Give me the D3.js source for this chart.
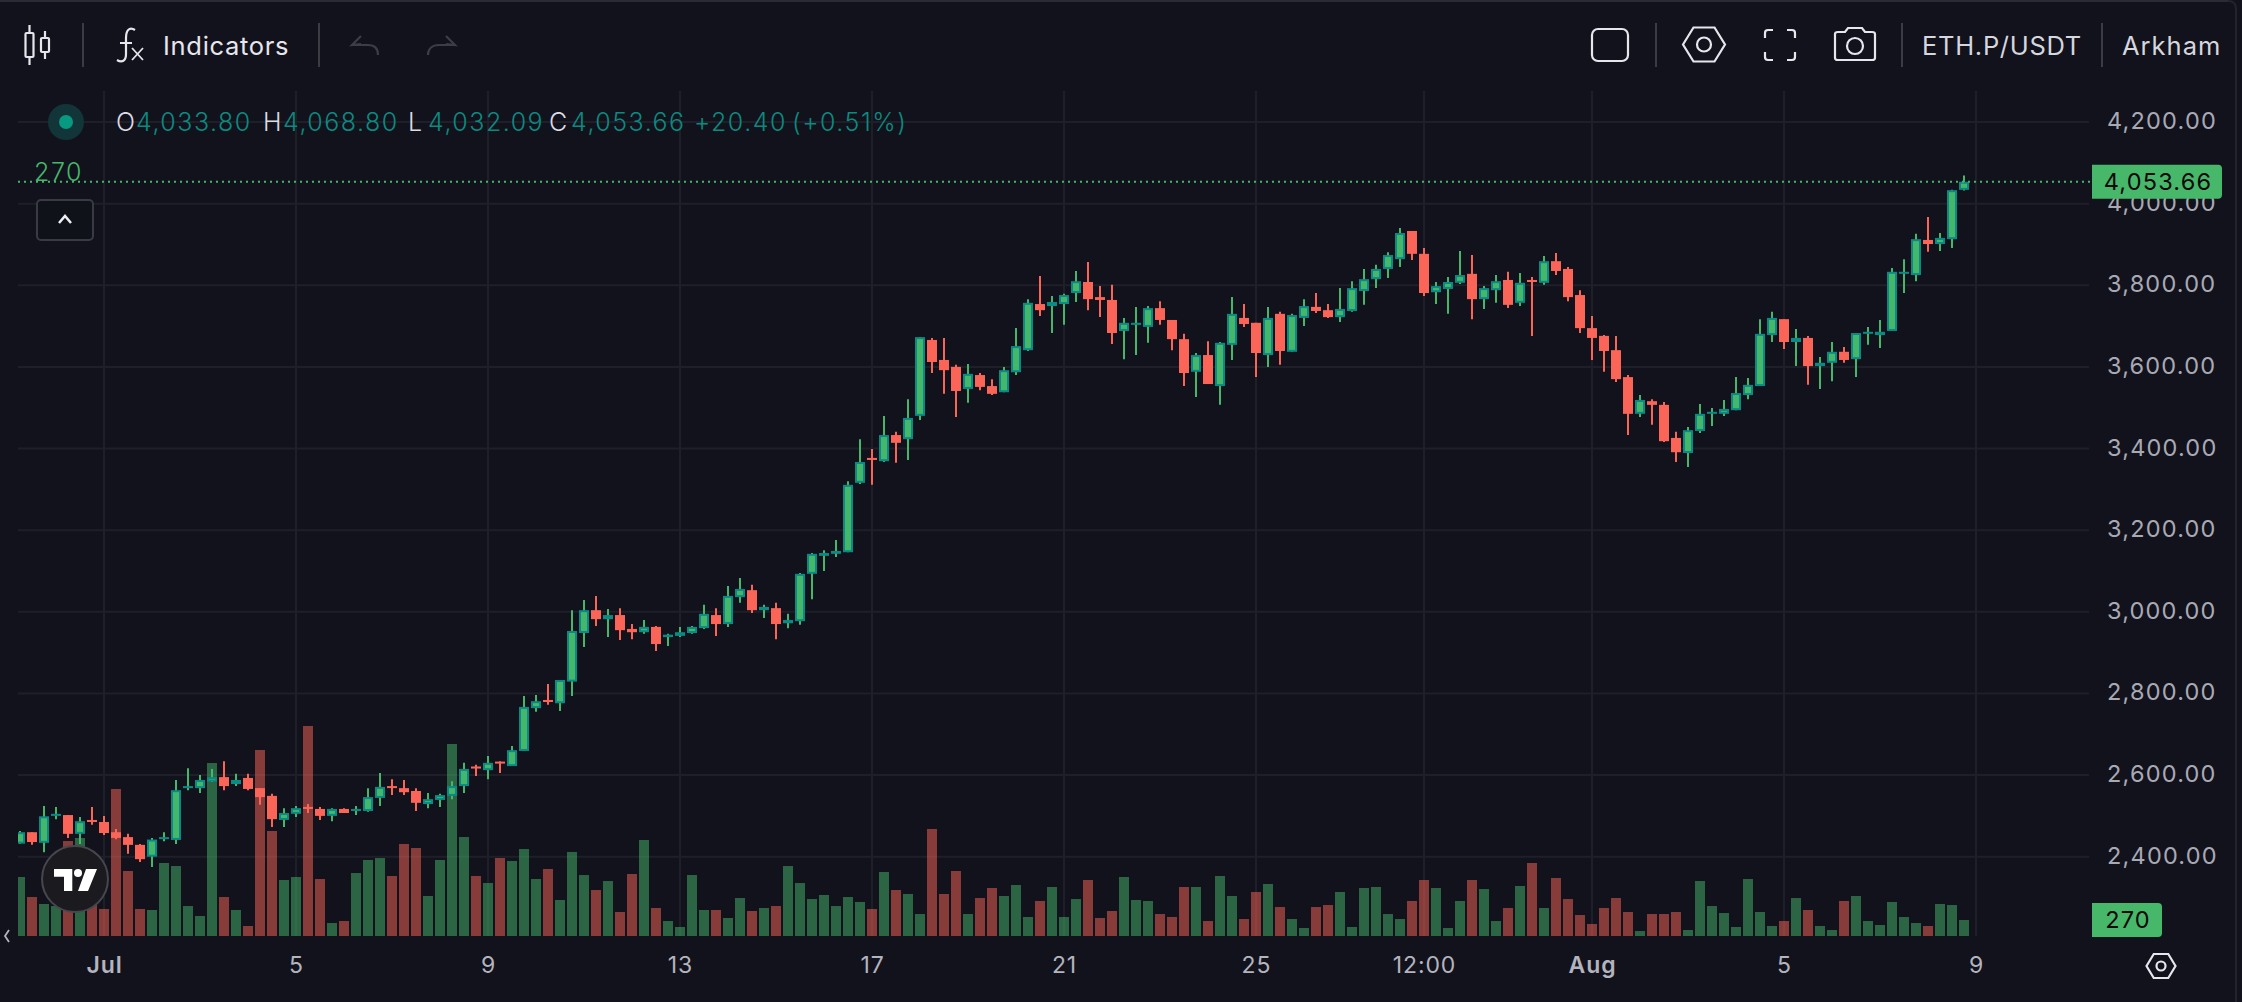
<!DOCTYPE html>
<html>
<head>
<meta charset="utf-8">
<script src="https://cdn.jsdelivr.net/npm/d3@7"></script>
<style>
  html, body { margin: 0; padding: 0; background: #12121c; }
  svg { display: block; font-family: Inter, "Noto Sans", sans-serif; }
</style>
</head>
<body>
<svg id="chart" width="2242" height="1002"></svg>
<script>
// 6h candles, one entry per bar, first bar is 7 bars before 1 Jul
const barOffset = -7;

const opens = [
  2432,2460,2434,2500,2502,2456,2490,
  2485,2460,2448,2429,2400,2443,2441,2568,2568,2584,
  2595,2578,2593,2568,2549,2490,2505,2522,2517,2500,
  2517,2512,2512,2544,2573,2568,2561,2529,2539,2549,
  2573,2621,2612,2633,2622,2659,2764,2784,2776,2829,
  2948,3004,2982,2992,2958,2950,2963,2938,2941,2948,
  2960,2992,2970,3036,3053,3004,3009,2972,2977,3093,
  3137,3142,3146,3316,3377,3369,3433,3423,3480,3666,
  3617,3600,3546,3580,3553,3538,3587,3641,3754,3749,
  3754,3781,3808,3771,3764,3688,3703,3698,3744,3715,
  3668,3588,3629,3553,3654,3720,3708,3629,3730,3637,
  3720,3747,3739,3722,3737,3786,3815,3840,3864,3933,
  3877,3783,3791,3806,3828,3766,3788,3813,3757,3813,
  3806,3859,3840,3776,3695,3676,3641,3575,3485,3516,
  3507,3426,3389,3443,3485,3485,3494,3531,3553,3678,
  3717,3661,3671,3602,3610,3637,3619,3681,3678,3688,
  3828,3825,3911,3901,3913,4033.80
];
const highs = [
  2463,2460,2524,2522,2502,2497,2522,
  2500,2468,2456,2431,2446,2460,2588,2617,2600,2615,
  2634,2603,2603,2568,2554,2519,2524,2529,2522,2519,
  2519,2524,2568,2605,2590,2588,2568,2556,2554,2585,
  2630,2625,2647,2634,2671,2794,2796,2823,2833,3004,
  3029,3039,3007,3009,2970,2980,2965,2946,2963,2965,
  3017,3009,3063,3083,3066,3017,3022,2995,3095,3144,
  3151,3176,3320,3423,3399,3480,3441,3521,3673,3671,
  3671,3605,3607,3585,3570,3600,3695,3766,3823,3774,
  3779,3835,3857,3798,3801,3720,3747,3749,3761,3715,
  3681,3634,3663,3661,3771,3754,3708,3747,3735,3730,
  3766,3781,3754,3793,3810,3840,3850,3881,3940,3933,
  3891,3808,3820,3884,3874,3798,3825,3833,3830,3820,
  3872,3879,3845,3788,3725,3678,3676,3580,3531,3521,
  3514,3441,3453,3509,3499,3519,3575,3573,3717,3735,
  3717,3693,3676,3624,3661,3649,3683,3698,3715,3842,
  3864,3926,3967,3928,4034,4068.80
];
const lows = [
  2432,2429,2411,2492,2446,2431,2478,
  2453,2443,2407,2387,2375,2438,2431,2563,2556,2583,
  2563,2573,2563,2527,2473,2473,2497,2507,2490,2487,
  2507,2502,2510,2524,2551,2551,2512,2519,2522,2541,
  2556,2598,2590,2605,2622,2659,2755,2772,2757,2794,
  2914,2965,2938,2931,2933,2946,2904,2916,2938,2946,
  2958,2941,2963,3022,2997,2985,2933,2960,2968,3031,
  3100,3134,3146,3313,3311,3367,3365,3372,3470,3585,
  3534,3477,3512,3543,3531,3538,3580,3639,3725,3683,
  3703,3759,3739,3722,3656,3619,3629,3659,3703,3641,
  3553,3526,3558,3507,3617,3698,3575,3600,3605,3637,
  3700,3732,3720,3710,3735,3752,3793,3818,3845,3862,
  3774,3754,3730,3803,3717,3742,3757,3744,3749,3676,
  3801,3825,3761,3683,3617,3588,3563,3433,3477,3458,
  3416,3367,3355,3438,3455,3480,3494,3521,3553,3661,
  3644,3602,3556,3546,3565,3610,3575,3654,3646,3688,
  3781,3810,3882,3884,3891,4032.09
];
const closes = [
  2460,2436,2499,2505,2456,2487,2485,
  2458,2446,2429,2394,2442,2448,2563,2573,2588,2595,
  2573,2588,2566,2546,2492,2507,2519,2517,2500,2517,
  2507,2517,2546,2571,2569,2558,2532,2541,2551,2573,
  2615,2616,2630,2629,2661,2767,2781,2779,2833,2953,
  3004,2982,2992,2955,2950,2963,2921,2944,2950,2963,
  2995,2970,3039,3056,3004,3012,2970,2980,3093,3142,
  3144,3149,3311,3367,3372,3433,3414,3475,3673,3612,
  3592,3541,3583,3551,3534,3592,3651,3757,3739,3759,
  3776,3810,3766,3764,3683,3708,3708,3744,3715,3668,
  3585,3629,3558,3659,3730,3705,3634,3720,3639,3727,
  3749,3737,3722,3742,3793,3815,3840,3874,3928,3877,
  3781,3798,3808,3825,3766,3793,3810,3752,3806,3808,
  3859,3835,3771,3695,3671,3639,3570,3485,3519,3507,
  3418,3391,3445,3485,3490,3497,3536,3556,3681,3720,
  3661,3671,3602,3610,3637,3617,3683,3686,3686,3833,
  3833,3913,3901,3916,4033,4053.66
];
const volumes = [
  996,658,540,506,1603,1654,608,
  456,2481,1097,456,439,1232,1181,506,338,2919,
  658,439,169,3139,1772,945,996,3544,962,219,
  253,1063,1283,1316,1013,1553,1485,675,1283,3240,
  1671,1013,894,1316,1266,1468,962,1131,608,1418,
  1029,776,928,405,1046,1620,473,253,152,1029,
  439,439,304,641,422,473,506,1181,894,624,
  692,506,658,574,456,1080,776,709,371,1806,
  709,1097,371,641,810,675,861,321,591,827,
  321,624,945,304,422,996,608,591,371,321,
  827,827,253,1013,675,287,743,878,489,287,
  135,489,523,743,152,810,827,371,287,591,
  945,810,135,591,945,793,253,473,844,1232,
  473,979,624,354,203,473,641,405,84,371,
  371,405,101,928,506,388,152,962,405,169,
  253,641,439,169,101,591,675,253,186,574,
  321,219,169,540,523,270
];

const priceTicks = [2400,2600,2800,3000,3200,3400,3600,3800,4000,4200];
const timeTickBars = [0,16,32,48,64,80,96,110,124,140,156];
const timeTickLabels = ["Jul","5","9","13","17","21","25","12:00","Aug","5","9"];
const boldTicks = ["Jul","Aug"];

const lastPrice = 4053.66;
const lastVolume = 270;
const legendItems = [
  ["O", "4,033.80"], ["H", "4,068.80"], ["L", "4,032.09"], ["C", "4,053.66"]
];
const legendChange = "+20.40";
const legendPercent = "(+0.51%)";

const BG = "#12121c", GRID = "#1f1f29", AXIS_TEXT = "#a9a9b4", ICON = "#e6e6ec", SEP = "#3b3b44";
const UP = "#45b76a", UP_EDGE = "#0a8a84", DOWN = "#fb6558", LEGEND_TEAL = "#0b8a80";

const svg = d3.select("#chart");

const x = d3.scaleLinear().domain([barOffset, 156]).range([20, 1976]);
const y = d3.scaleLinear().domain([2400, 4200]).range([856.7, 122]);
// volume overlay sits on the bottom of the pane
const yVol = d3.scaleLinear().domain([0, 270]).range([936, 920]);

const bars = opens.map((o, i) => ({
  idx: i + barOffset, o, h: highs[i], l: lows[i], c: closes[i], v: volumes[i], up: closes[i] >= o
}));

// clip for the pane so first bar gets cut on the left
svg.append("clipPath").attr("id", "pane")
  .append("rect").attr("x", 18).attr("y", 91).attr("width", 2071).attr("height", 846);

// window frame
svg.append("rect").attr("x", 0).attr("y", 0).attr("width", 2242).attr("height", 1002).attr("fill", BG);
svg.append("line").attr("x1", 0).attr("x2", 2230).attr("y1", 1).attr("y2", 1).attr("stroke", "#2b2b38").attr("stroke-width", 2);
svg.append("path").attr("d", "M2228,1 Q2236,1 2236,9 L2236,1002").attr("fill", "none").attr("stroke", "#23232d").attr("stroke-width", 2);

// grid
const grid = svg.append("g");
grid.selectAll("line.h").data(priceTicks).enter().append("line")
  .attr("class", "h")
  .attr("x1", 18).attr("x2", 2089)
  .attr("y1", d => y(d)).attr("y2", d => y(d))
  .attr("stroke", GRID).attr("stroke-width", 2);
grid.selectAll("line.v").data(timeTickBars).enter().append("line")
  .attr("class", "v")
  .attr("x1", d => x(d)).attr("x2", d => x(d))
  .attr("y1", 91).attr("y2", 936)
  .attr("stroke", GRID).attr("stroke-width", 2);

const pane = svg.append("g").attr("clip-path", "url(#pane)");

// volume bars
pane.selectAll("rect.vol").data(bars).enter().append("rect")
  .attr("class", "vol")
  .attr("x", d => x(d.idx) - 5)
  .attr("width", 10)
  .attr("y", d => yVol(d.v))
  .attr("height", d => yVol(0) - yVol(d.v))
  .attr("fill", d => d.up ? UP : DOWN)
  .attr("fill-opacity", 0.5);

// candles
const candle = pane.selectAll("g.candle").data(bars).enter().append("g").attr("class", "candle");
candle.append("line")
  .attr("x1", d => x(d.idx)).attr("x2", d => x(d.idx))
  .attr("y1", d => y(d.h)).attr("y2", d => y(d.l))
  .attr("stroke", d => d.up ? UP : DOWN).attr("stroke-width", 2);
candle.append("rect")
  .attr("x", d => x(d.idx) - 5)
  .attr("width", 10)
  .attr("y", d => y(Math.max(d.o, d.c)))
  .attr("height", d => Math.max(2, Math.abs(y(d.o) - y(d.c))))
  .attr("fill", d => d.up ? UP_EDGE : DOWN);
candle.filter(d => d.up && Math.abs(y(d.o) - y(d.c)) > 4).append("rect")
  .attr("x", d => x(d.idx) - 3)
  .attr("width", 6)
  .attr("y", d => y(Math.max(d.o, d.c)) + 2)
  .attr("height", d => Math.abs(y(d.o) - y(d.c)) - 4)
  .attr("fill", UP);

// last price dotted line
svg.append("line")
  .attr("x1", 18).attr("x2", 2092)
  .attr("y1", y(lastPrice)).attr("y2", y(lastPrice))
  .attr("stroke", UP).attr("stroke-width", 2).attr("stroke-dasharray", "2 4");

// axes
const yAxis = d3.axisRight(y).tickValues(priceTicks).tickSize(0).tickPadding(0)
  .tickFormat(d3.format(",.2f"));
const yAxisG = svg.append("g").attr("transform", "translate(2107,-1)").call(yAxis);
yAxisG.select(".domain").remove();
yAxisG.selectAll("text").attr("font-size", 23.5).attr("fill", AXIS_TEXT).attr("font-family", "Inter")
  .attr("letter-spacing", 1.2);

const xAxis = d3.axisBottom(x).tickValues(timeTickBars).tickSize(0).tickPadding(0)
  .tickFormat((d, i) => timeTickLabels[i]);
const xAxisG = svg.append("g").attr("transform", "translate(0,953)").call(xAxis);
xAxisG.select(".domain").remove();
xAxisG.selectAll("text")
  .attr("y", 0).attr("dy", "0.85em")
  .attr("font-size", 23).attr("fill", "#b4b4be").attr("font-family", "Inter")
  .attr("letter-spacing", 0.9)
  .attr("font-weight", (d, i) => boldTicks.includes(timeTickLabels[i]) ? 600 : 400);

// price tags on the axis
function priceTag(yPos, width, label) {
  const h = 34, r = 4, left = 2092, top = yPos - h / 2, right = left + width;
  svg.append("path")
    .attr("d", `M${left},${top} H${right - r} Q${right},${top} ${right},${top + r} V${top + h - r} Q${right},${top + h} ${right - r},${top + h} H${left} Z`)
    .attr("fill", "#47b86a");
  svg.append("text")
    .attr("x", left + width / 2 + 1).attr("y", yPos)
    .attr("dy", "0.36em")
    .attr("text-anchor", "middle")
    .attr("font-size", 23.5).attr("fill", "#0a0a0a")
    .attr("letter-spacing", 1.2)
    .text(label);
}
priceTag(y(lastPrice), 130, d3.format(",.2f")(lastPrice));
priceTag(yVol(lastVolume), 70, String(lastVolume));

// legend row
svg.append("circle").attr("cx", 66).attr("cy", 122).attr("r", 18).attr("fill", "#12353a");
svg.append("circle").attr("cx", 66).attr("cy", 122).attr("r", 7).attr("fill", "#089981");
const legendX = [116, 263, 408, 549];
const legendValX = [136, 283, 428, 571];
function legendText(px, color, label) {
  svg.append("text").attr("x", px).attr("y", 122).attr("dy", "0.36em")
    .attr("font-size", 25).attr("font-weight", 300).attr("letter-spacing", 1.5)
    .attr("fill", color).text(label);
}
legendItems.forEach((item, i) => {
  legendText(legendX[i], "#dcdce4", item[0]);
  legendText(legendValX[i], LEGEND_TEAL, item[1]);
});
legendText(694, LEGEND_TEAL, legendChange);
legendText(792, LEGEND_TEAL, legendPercent);

// volume study label and collapse button
svg.append("text").attr("x", 58.5).attr("y", 172).attr("dy", "0.36em").attr("text-anchor", "middle")
  .attr("font-size", 25).attr("font-weight", 300).attr("letter-spacing", 1.5).attr("fill", UP).text(lastVolume);
svg.append("rect").attr("x", 37).attr("y", 200).attr("width", 56).attr("height", 40).attr("rx", 4)
  .attr("fill", "#0f1219").attr("stroke", "#3a3a44").attr("stroke-width", 2);
svg.append("path").attr("d", "M59,223 L65,216 L71,223").attr("fill", "none").attr("stroke", "#f0f0f4").attr("stroke-width", 2.5);

// toolbar separators
[83, 319, 1656, 1902, 2102].forEach(sx => {
  svg.append("line").attr("x1", sx).attr("x2", sx).attr("y1", 23).attr("y2", 67).attr("stroke", SEP).attr("stroke-width", 2);
});

const icons = svg.append("g").attr("fill", "none").attr("stroke", ICON).attr("stroke-width", 2.2);
// candle icon
icons.append("path").attr("d", "M29.5,25 V33 M29.5,57 V65 M45,31 V38 M45,52 V59");
icons.append("rect").attr("x", 25.5).attr("y", 33).attr("width", 8).attr("height", 24).attr("rx", 1);
icons.append("rect").attr("x", 41).attr("y", 38).attr("width", 8).attr("height", 14).attr("rx", 1);
// fx icon
icons.append("path").attr("d", "M135,30 C129,26 126,31 126,38 L126,54 C126,61 122,63 117,60 M120,43 H132");
icons.append("path").attr("d", "M132,48 L143,60 M143,48 L132,60").attr("stroke-width", 1.8);
// undo, redo (disabled)
const dim = svg.append("g").attr("fill", "none").attr("stroke", "#3d3d47").attr("stroke-width", 2.2);
dim.append("path").attr("d", "M361,36 L352,45 L361,44 M352,45 H368 C375,45 378,49 378,55");
dim.append("path").attr("d", "M446,36 L455,45 L446,44 M455,45 H439 C432,45 428,49 428,55");
// rectangle
icons.append("rect").attr("x", 1592).attr("y", 29).attr("width", 36).attr("height", 32).attr("rx", 6);
// hexagon settings
function hexIcon(cx, cy, w, h, r) {
  icons.append("path").attr("d", `M${cx - w / 2},${cy} L${cx - w / 4},${cy - h / 2} H${cx + w / 4} L${cx + w / 2},${cy} L${cx + w / 4},${cy + h / 2} H${cx - w / 4} Z`);
  icons.append("circle").attr("cx", cx).attr("cy", cy).attr("r", r);
}
hexIcon(1704, 44.5, 42, 34, 7);
hexIcon(2161, 966, 29, 24, 4.5);
// fullscreen corners
icons.append("path").attr("d", "M1773,30 H1768 Q1765,30 1765,33 V38 M1787,30 H1792 Q1795,30 1795,33 V38 M1773,60 H1768 Q1765,60 1765,57 V52 M1787,60 H1792 Q1795,60 1795,57 V52");
// camera
icons.append("path").attr("d", "M1835,34 Q1835,32 1838,32 H1845 L1848,28 H1862 L1865,32 H1872 Q1875,32 1875,34 V58 Q1875,60 1872,60 H1838 Q1835,60 1835,58 Z");
icons.append("circle").attr("cx", 1855).attr("cy", 46).attr("r", 8);

// toolbar text
svg.append("text").attr("x", 163).attr("y", 46).attr("dy", "0.36em").attr("font-size", 25.5).attr("letter-spacing", 0.7).attr("fill", ICON).text("Indicators");
svg.append("text").attr("x", 1922).attr("y", 46).attr("dy", "0.36em").attr("font-size", 25.5).attr("letter-spacing", 0.7).attr("fill", "#d6d6de").text("ETH.P/USDT");
svg.append("text").attr("x", 2122).attr("y", 46).attr("dy", "0.36em").attr("font-size", 25.5).attr("letter-spacing", 1).attr("fill", "#d6d6de").text("Arkham");

// scroll chevron bottom left
svg.append("path").attr("d", "M9,930 L5,936 L9,942").attr("fill", "none").attr("stroke", "#b4b4be").attr("stroke-width", 1.8);

// TradingView badge
const logo = svg.append("g");
logo.append("circle").attr("cx", 75).attr("cy", 879).attr("r", 33).attr("fill", "#1b1b1f").attr("stroke", "#46464f").attr("stroke-width", 2);
logo.append("path").attr("fill", "#fff").attr("d", "M54,869 H72.3 V891 H64 V876.7 H54 Z M86,869 H97 L88,891 H78 Z");
logo.append("circle").attr("cx", 78).attr("cy", 873).attr("r", 4).attr("fill", "#fff");
</script>
</body>
</html>
